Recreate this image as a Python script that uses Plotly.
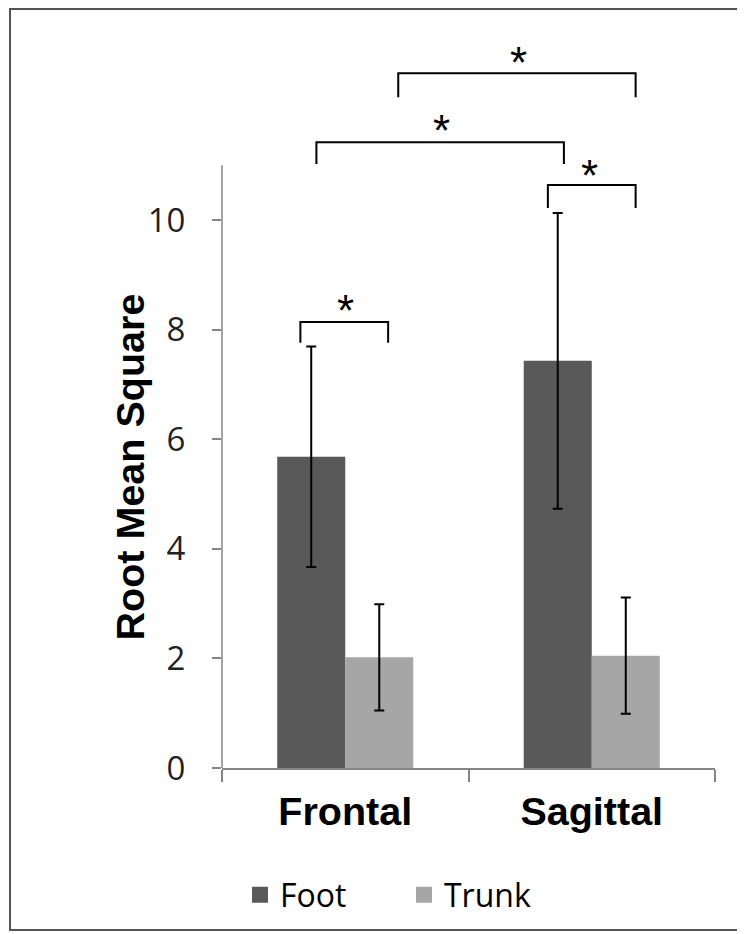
import plotly.graph_objects as go

# ---- data ----
planes = ["Frontal", "Sagittal"]
foot_mean = [5.68, 7.43]
foot_sd = [2.01, 2.70]
trunk_mean = [2.02, 2.05]
trunk_sd = [0.97, 1.06]
series_names = ["Foot", "Trunk"]
y_ticks = [0, 2, 4, 6, 8, 10]

# significance brackets: (x_left, x_right, y_bar, y_leg_end, star_x, star_y)
brackets = [
    (-0.182, 0.174, 8.14, 7.76, 0.0, 8.54),
    (0.822, 1.178, 10.64, 10.22, 0.99, 10.99),
    (-0.117, 0.887, 11.42, 11.02, 0.389, 11.82),
    (0.215, 1.178, 12.68, 12.24, 0.704, 13.05),
]

FOOT_C = "#595959"
TRUNK_C = "#a6a6a6"
AXIS_C = "#868686"

fig = go.Figure()
fig.add_trace(go.Bar(
    x=planes, y=foot_mean, name=series_names[0], marker_color=FOOT_C,
    marker_line_width=0, showlegend=False,
    error_y=dict(type="data", array=foot_sd, color="black", thickness=2, width=5),
))
fig.add_trace(go.Bar(
    x=planes, y=trunk_mean, name=series_names[1], marker_color=TRUNK_C,
    marker_line_width=0, showlegend=False,
    error_y=dict(type="data", array=trunk_sd, color="black", thickness=2, width=5),
))
# legend entries with square markers
for nm, c in zip(series_names, [FOOT_C, TRUNK_C]):
    fig.add_trace(go.Scatter(x=[None], y=[None], mode="markers", name=nm,
                             marker=dict(symbol="square", size=18, color=c)))

shapes = []
annotations = []
for xl, xr, yb, yl, sx, sy in brackets:
    shapes.append(dict(type="path", xref="x", yref="y",
                       path=f"M {xl},{yl} L {xl},{yb} L {xr},{yb} L {xr},{yl}",
                       line=dict(color="black", width=2)))
    annotations.append(dict(x=sx, y=sy, xref="x", yref="y", text="*", showarrow=False,
                            font=dict(family="Liberation Sans", size=44, color="black"),
                            yshift=-10))

# y-axis line only up to 11
shapes.append(dict(type="line", xref="paper", yref="y", x0=0, x1=0, y0=0, y1=11,
                   line=dict(color=AXIS_C, width=1.5)))
# outer frame
shapes.append(dict(type="rect", xref="paper", yref="paper", x0=-0.430, x1=1.08,
                   y0=-0.2195, y1=1.0285, line=dict(color="#555555", width=2)))

annotations.append(dict(x=-0.187, y=5.5, xref="paper", yref="y", text="Root Mean Square",
                        textangle=-90, showarrow=False, xanchor="center", yanchor="middle",
                        font=dict(family="Liberation Sans", size=39.5, color="black", weight="bold")))

fig.update_layout(
    width=737, height=926,
    margin=dict(l=214, r=30, t=22, b=166),
    paper_bgcolor="white", plot_bgcolor="white",
    barmode="group", bargap=0.448, bargroupgap=0,
    shapes=shapes, annotations=annotations,
    showlegend=True,
    legend=dict(orientation="h", x=0.0365, y=-0.172, xanchor="left", yanchor="middle",
                font=dict(family="Open Sans", size=32, color="black"),
                itemwidth=30, entrywidth=119, entrywidthmode="pixels",
                traceorder="normal"),
)
fig.update_xaxes(
    showline=True, linecolor=AXIS_C, linewidth=1.5,
    ticks="outside", tickson="boundaries", ticklen=12, tickcolor=AXIS_C, tickwidth=1.5,
    tickfont=dict(family="Liberation Sans", size=39.5, color="black", weight="bold"),
    ticklabelstandoff=8, showgrid=False, zeroline=False,
)
fig.update_yaxes(
    range=[0, 738 / 54.8], tickvals=y_ticks, showline=False, showgrid=False, zeroline=False,
    ticks="outside", ticklen=9, tickcolor=AXIS_C, tickwidth=1.5,
    tickfont=dict(family="Open Sans", size=33, color="#222222"),
    ticklabelstandoff=20,
)

fig.write_html("out.html")
